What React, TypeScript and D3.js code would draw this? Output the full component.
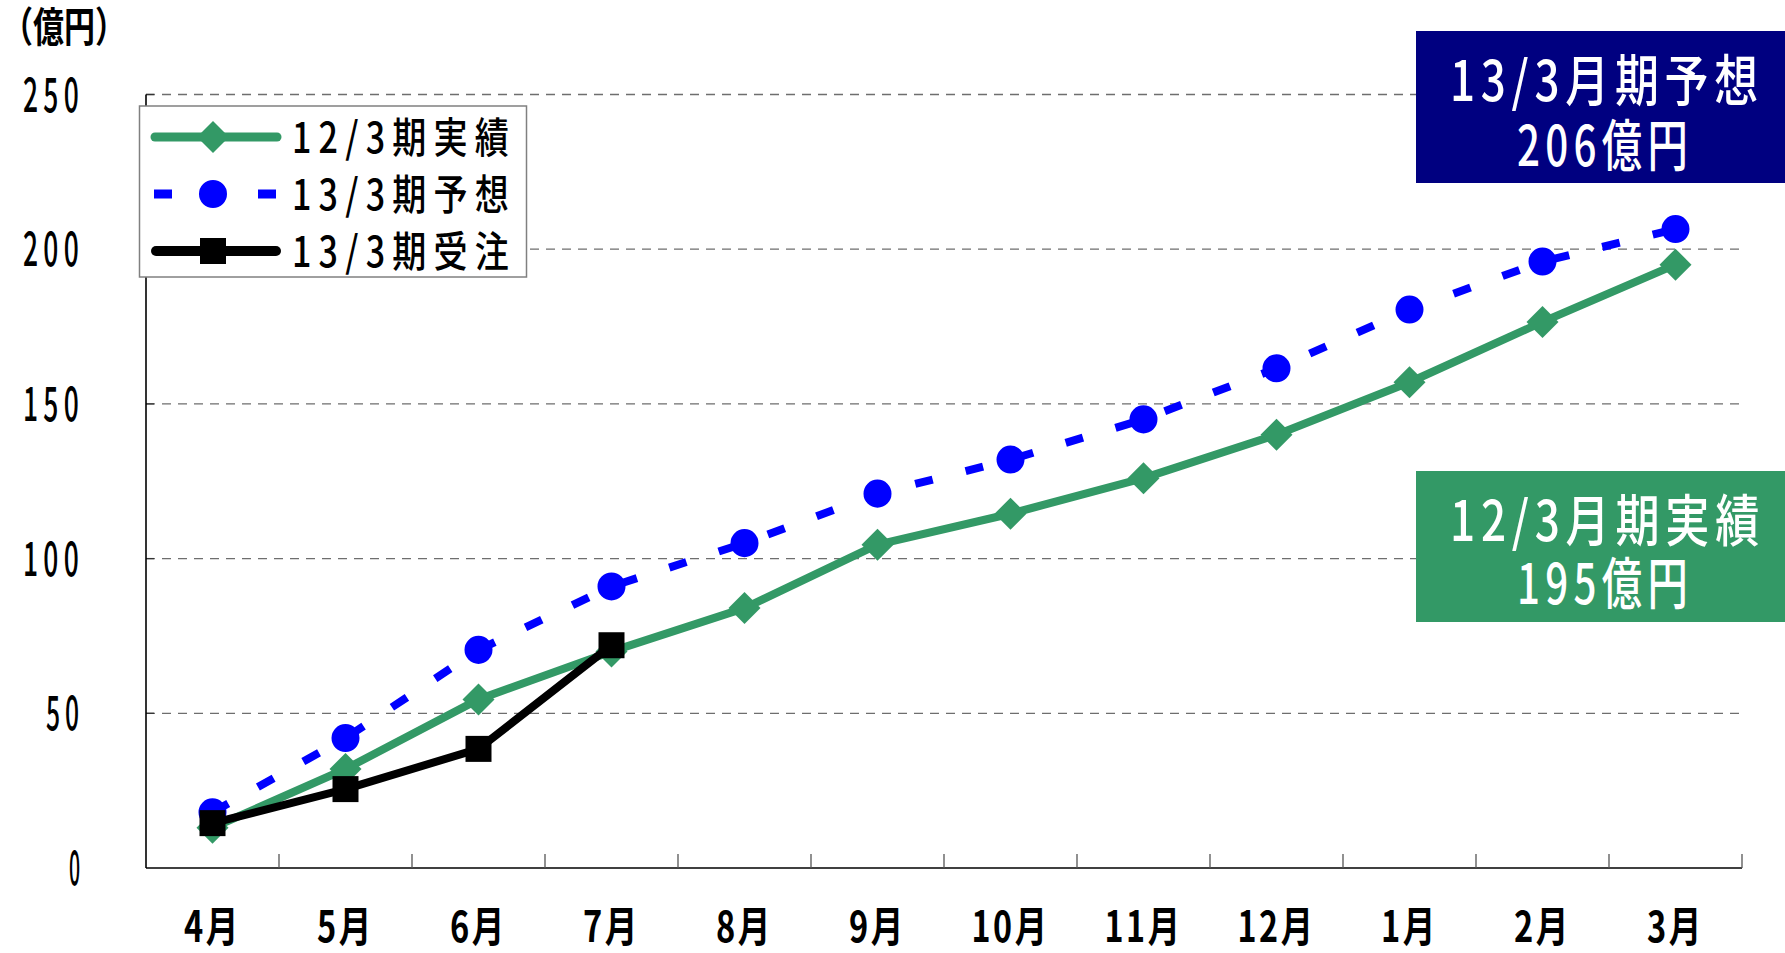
import { useEffect } from "react";
import * as d3 from "d3";

const months = ["4月", "5月", "6月", "7月", "8月", "9月", "10月", "11月", "12月", "1月", "2月", "3月"];
const actual12 = [13, 32, 54.5, 70, 84, 104.5, 114.5, 126, 140, 157, 176.5, 195];
const forecast13 = [18, 42, 70.5, 91, 105, 121, 132, 145, 161.5, 180.5, 196, 206.5];
const orders13 = [14.5, 25.5, 38.5, 72];
const yTicks = [0, 50, 100, 150, 200, 250];
const legendLabels = ["12/3期実績", "13/3期予想", "13/3期受注"];

const W = 1785;
const H = 953;
const FONT = '"Noto Sans CJK JP", "Noto Sans CJK SC", sans-serif';
const GREEN = "#339966";
const BLUE = "#0000ff";
const NAVY = "#000080";

// tall, narrow text squeezed into the width measured on the original
function Fit({ x, y, w, size, text, fill = "#000", weight = 700, sy = 1.15, ls = 0 }: any) {
  return (
    <text
      transform={`translate(${x},${y}) scale(1,${sy})`}
      fontSize={size}
      fontWeight={weight}
      fill={fill}
      fontFamily={FONT}
      letterSpacing={ls}
      textLength={w}
      lengthAdjust="spacingAndGlyphs"
    >
      {text}
    </text>
  );
}

export default function App() {
  useEffect(() => {
    document.body.style.margin = "0";
  }, []);

  const left = 146;
  const right = 1742;
  const top = 94.5;
  const bottom = 868;

  const x = d3.scaleBand<string>().domain(months).range([left, right]).padding(0);
  const cx = (m: string) => (x(m) as number) + x.bandwidth() / 2;
  const y = d3.scaleLinear().domain([0, 250]).range([bottom, top]);

  const line = d3
    .line<number>()
    .x((_, i) => cx(months[i]))
    .y((d) => y(d));

  const diamond = d3.symbol().type(d3.symbolSquare).size(512)();
  const circle = d3.symbol().type(d3.symbolCircle).size(616)();
  const square = d3.symbol().type(d3.symbolSquare).size(676)();

  const boundaries = months.map((m) => x(m) as number).concat([right]).slice(1);

  const digitW = (s: string) => 23 * (s.length - 1) + 15;
  const monthW = (s: string) => (s.length > 2 ? 78 : 57);

  const legTop = 106;
  const legRows = [137, 194, 251];

  return (
    <svg width={W} height={H} style={{ display: "block" }} fontFamily={FONT}>
      <rect width={W} height={H} fill="#fff" />

      {/* gridlines */}
      {yTicks.slice(1).map((t) => (
        <g key={t}>
          <line x1={left} x2={right} y1={y(t)} y2={y(t)} stroke="#6e6e6e" strokeWidth={1.3} strokeDasharray="9 7" />
          <line x1={left} x2={left + 8} y1={y(t)} y2={y(t)} stroke="#333" strokeWidth={1.3} />
        </g>
      ))}

      {/* axes */}
      <line x1={left} x2={left} y1={top} y2={bottom} stroke="#000" strokeWidth={1.6} />
      <line x1={left} x2={right} y1={bottom} y2={bottom} stroke="#000" strokeWidth={1.6} />
      {boundaries.map((b, i) => (
        <line key={i} x1={b} x2={b} y1={bottom} y2={bottom - 14} stroke="#555" strokeWidth={1.3} />
      ))}

      {/* y tick labels */}
      {yTicks.map((t) => {
        const s = String(t);
        const w = digitW(s);
        return <Fit key={t} x={84 - w} y={y(t) + 17} w={w} size={40} sy={1.2} ls={8} weight={500} text={s} />;
      })}

      {/* x tick labels */}
      {months.map((m) => {
        const w = monthW(m);
        return <Fit key={m} x={cx(m) - w / 2} y={942} w={w} size={38} sy={1.12} ls={3} weight={700} text={m} />;
      })}

      {/* unit */}
      <Fit x={2} y={42} w={124} size={37} sy={1.12} weight={700} text="（億円）" />

      {/* series */}
      <path d={line(actual12) || ""} fill="none" stroke={GREEN} strokeWidth={8} strokeLinejoin="round" />
      {actual12.map((v, i) => (
        <path key={i} d={diamond || ""} transform={`translate(${cx(months[i])},${y(v)}) rotate(45)`} fill={GREEN} />
      ))}

      <path d={line(forecast13) || ""} fill="none" stroke={BLUE} strokeWidth={8} strokeDasharray="18 34" />
      {forecast13.map((v, i) => (
        <path key={i} d={circle || ""} transform={`translate(${cx(months[i])},${y(v)})`} fill={BLUE} />
      ))}

      <path d={line(orders13) || ""} fill="none" stroke="#000" strokeWidth={8} strokeLinejoin="round" />
      {orders13.map((v, i) => (
        <path key={i} d={square || ""} transform={`translate(${cx(months[i])},${y(v)})`} fill="#000" />
      ))}

      {/* legend */}
      <rect x={139.5} y={legTop} width={387} height={171} fill="#fff" stroke="#808080" strokeWidth={1.5} />
      <line x1={155} x2={277} y1={legRows[0]} y2={legRows[0]} stroke={GREEN} strokeWidth={9} strokeLinecap="round" />
      <path d={diamond || ""} transform={`translate(213,${legRows[0]}) rotate(45)`} fill={GREEN} />
      <line x1={154} x2={276} y1={legRows[1]} y2={legRows[1]} stroke={BLUE} strokeWidth={9} strokeDasharray="18 34" />
      <path d={circle || ""} transform={`translate(213,${legRows[1]})`} fill={BLUE} />
      <line x1={156} x2={276} y1={legRows[2]} y2={legRows[2]} stroke="#000" strokeWidth={10} strokeLinecap="round" />
      <path d={square || ""} transform={`translate(213,${legRows[2]})`} fill="#000" />
      {legendLabels.map((l, i) => (
        <Fit key={l} x={292} y={legRows[i] + 16} w={224} size={38} sy={1.12} ls={8} weight={500} text={l} />
      ))}

      {/* callouts */}
      <rect x={1416} y={31} width={W - 1416} height={152} fill={NAVY} />
      <Fit x={1450} y={101} w={314} size={46} sy={1.2} ls={6} weight={500} fill="#fff" text="13/3月期予想" />
      <Fit x={1517} y={166} w={176} size={46} sy={1.2} ls={6} weight={500} fill="#fff" text="206億円" />

      <rect x={1416} y={471} width={W - 1416} height={151} fill={GREEN} />
      <Fit x={1450} y={541} w={315} size={46} sy={1.2} ls={6} weight={500} fill="#fff" text="12/3月期実績" />
      <Fit x={1517} y={604} w={176} size={46} sy={1.2} ls={6} weight={500} fill="#fff" text="195億円" />
    </svg>
  );
}
